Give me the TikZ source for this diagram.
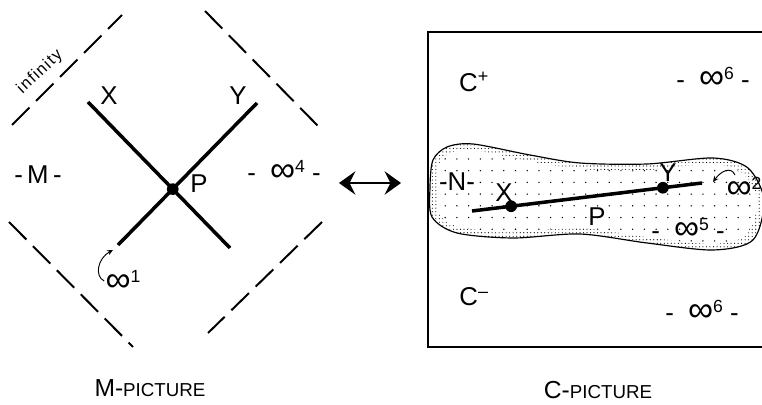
\documentclass[tikz,border=0pt]{standalone}
\usepackage{fontspec}
\setmainfont{Liberation Sans}
\usetikzlibrary{arrows.meta,patterns.meta}
\newcommand\linf[1]{{\fontsize{30}{30}\selectfont ∞}\raisebox{8pt}{\fontsize{15}{15}\selectfont #1}}

\begin{document}
\begin{tikzpicture}[
  x=0.03cm, y=-0.03cm,
  font=\fontsize{22}{26}\selectfont,
  bound/.style={line width=1.7pt, dash pattern=on 21pt off 8pt},
  world/.style={line width=3pt},
  event/.style={circle, fill=black, inner sep=0pt, minimum size=10pt},
  lbl/.style={inner sep=1pt},
  frame/.style={line width=2.2pt},
  curl/.style={-{Stealth[length=5pt,width=4.5pt]}, line width=0.8pt},
  both/.style={{Stealth[length=14pt,width=20pt,inset=5pt]}-{Stealth[length=14pt,width=20pt,inset=5pt]},
    line width=1.8pt},
  capt/.style={inner sep=1pt, font=\fontsize{21}{24}\selectfont},
]
\useasboundingbox (0,0) rectangle (762,405);

% ---------------- M-picture ----------------
\draw[bound] (12,125) -- (122,15);
\draw[bound] (205,11) -- (318,126);
\draw[bound] (9,222) -- (133,347);
\draw[bound] (322,222) -- (208,333);
\node[lbl, rotate=43, font=\fontsize{14}{16}\selectfont\addfontfeature{LetterSpace=8}]
  (inf) at (40,72) {infinity};

\coordinate (xa) at (88,102);
\coordinate (xb) at (230,248);
\coordinate (ya) at (257,103);
\coordinate (yb) at (118,245);
\draw[world] (xa) -- (xb);
\draw[world] (ya) -- (yb);
\node[event] (p) at (intersection of xa--xb and ya--yb) {};

\node[lbl] (lx) at (109,96) {X};
\node[lbl] (ly) at (238,96) {Y};
\node[lbl] (lp) at (199,184) {P};
\node[lbl] (m) at (38,175) {-\,M\,-};
\node[lbl] (inffour) at (284,171) {-\; \linf{4} -};

\node[lbl] (infone) at (123,281) {\linf{1}};
\coordinate (tipone) at (113,250);
\draw[curl] (infone.west) .. controls (94,276) and (98,258) .. (tipone);

% ---------------- arrow between pictures ----------------
\coordinate (ml) at (339,183);
\coordinate (cl) at (401,183);
\draw[both] (ml) -- (cl);

% ---------------- C-picture ----------------
\def\outer{(430,187) (433,160) (447,147) (473,144) (530,155) (580,163)
  (647,164) (713,158) (748,168) (764,200) (753,240) (713,250) (647,243)
  (580,234) (513,238) (457,233) (432,217)}
\def\inner{(437,187) (440,162) (451,153) (473,150) (528,161) (580,169)
  (647,170) (713,164) (743,174) (757,200) (747,234) (713,244) (647,237)
  (580,228) (513,232) (459,227) (439,213)}

\begin{scope}
  \clip plot[smooth cycle] coordinates {\outer};
  \fill[pattern={Dots[distance=3pt,radius=0.5pt]}] (420,130) rectangle (775,265);
  \fill[white] plot[smooth cycle] coordinates {\inner};
  \fill[pattern={Dots[distance=10pt,radius=0.65pt]}] plot[smooth cycle] coordinates {\inner};
\end{scope}
\draw[line width=1pt] plot[smooth cycle] coordinates {\outer};

\draw[frame] (428,32) rectangle (768,347);

\coordinate (ca) at (472,211);
\coordinate (cb) at (702,183);
\draw[world] (ca) -- (cb)
  node[event, pos=0.17] (cx) {}
  node[event, pos=0.83] (cy) {};

\node[lbl] (lcx) at (504,193) {X};
\node[lbl] (lcy) at (668,173) {Y};
\node[lbl] (lcp) at (597,217) {P};
\node[lbl] (n) at (457,182) {-N-};

\node[lbl] (inftwo) at (744,188) {\linf{2}};
\coordinate (tiptwo) at (713,182);
\draw[curl] (735,175) .. controls (731,166) and (721,171) .. (tiptwo);

\node[lbl] (inffive) at (688,229) {-\; \linf{5} -};
\node[lbl] (cplus) at (474,82) {C\textsuperscript{+}};
\node[lbl] (infsixa) at (713,78) {-\; \linf{6} -};
\node[lbl] (cminus) at (474,297) {C\textsuperscript{--}};
\node[lbl] (infsixb) at (702,311) {-\; \linf{6} -};

% ---------------- captions ----------------
\node[capt] (mcap) at (150,388) {M-{\fontsize{16}{18}\selectfont PICTURE}};
\node[capt] (ccap) at (598,390) {C-{\fontsize{16}{18}\selectfont PICTURE}};

\end{tikzpicture}
\end{document}
